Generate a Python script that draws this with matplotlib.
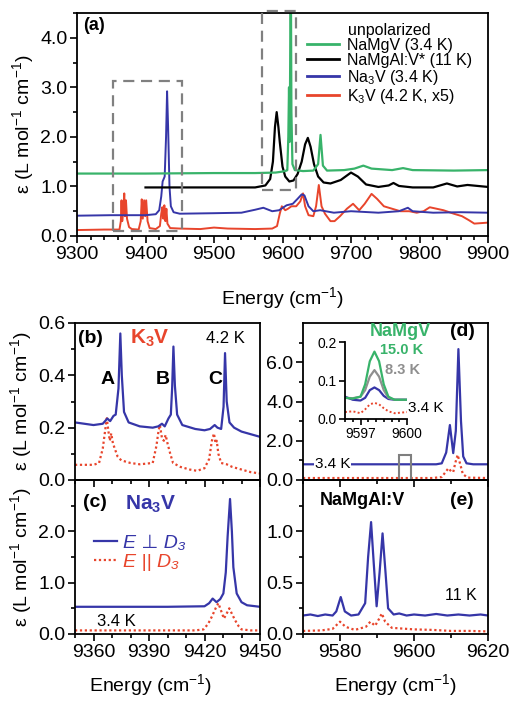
import matplotlib
matplotlib.use('Agg')
import matplotlib.pyplot as plt
from matplotlib.ticker import MultipleLocator, FormatStrFormatter, FixedLocator
from matplotlib.patches import Rectangle

plt.rcParams['font.family'] = ['Liberation Sans', 'DejaVu Sans']
plt.rcParams['mathtext.default'] = 'regular'

# ---------------- data ----------------
# panel (a): unpolarized spectra
green_a_x = [9300, 9400, 9500, 9560, 9590, 9600, 9606, 9607, 9608.5, 9609.5, 9610.5, 9611.2, 9612, 9613, 9614.5,
             9618, 9630, 9645, 9652, 9655.5, 9659, 9665, 9690, 9705, 9718, 9730, 9760, 9776, 9790, 9850, 9900]
green_a_y = [1.26, 1.26, 1.27, 1.27, 1.28, 1.30, 1.32, 1.33, 2.0, 3.0, 1.9, 3.5, 6.0, 2.5, 1.45,
             1.33, 1.31, 1.32, 1.45, 2.04, 1.42, 1.32, 1.33, 1.36, 1.42, 1.36, 1.33, 1.37, 1.33, 1.32, 1.33]

black_a_x = [9400, 9500, 9560, 9575, 9582, 9586, 9589, 9591.5, 9594, 9596, 9600, 9604, 9610, 9616, 9622, 9628,
             9633, 9637, 9641, 9646, 9652, 9660, 9670, 9685, 9700, 9710, 9722, 9740, 9755, 9762, 9770, 9790,
             9820, 9840, 9855, 9870, 9900]
black_a_y = [0.98, 0.98, 0.98, 1.02, 1.15, 1.5, 2.2, 2.5, 2.2, 1.9, 1.4, 1.2, 1.1, 1.12, 1.25, 1.5,
             1.85, 1.98, 1.8, 1.45, 1.2, 1.08, 1.06, 1.13, 1.28, 1.2, 1.04, 0.99, 1.02, 1.07, 1.01, 0.98,
             0.98, 1.06, 1.0, 1.03, 0.99]

blue_a_x = [9300, 9350, 9400, 9415, 9420, 9423, 9425, 9428, 9430, 9431.5, 9433, 9435, 9437, 9441, 9450, 9500,
            9540, 9560, 9572, 9585, 9595, 9606, 9615, 9622, 9628, 9632, 9638, 9645, 9655, 9675, 9700, 9740,
            9770, 9783, 9790, 9820, 9860, 9900]
blue_a_y = [0.41, 0.42, 0.42, 0.44, 0.52, 0.8, 1.1, 1.2, 2.0, 2.92, 2.2, 1.0, 0.6, 0.48, 0.45, 0.46,
            0.47, 0.53, 0.57, 0.5, 0.52, 0.62, 0.65, 0.75, 0.84, 0.82, 0.6, 0.5, 0.52, 0.47, 0.5, 0.47,
            0.5, 0.57, 0.5, 0.47, 0.48, 0.47]

red_a_x = [9300, 9340, 9362, 9364, 9365, 9366, 9367.5, 9369, 9370, 9371.5, 9373, 9376, 9380, 9390, 9393,
           9394.5, 9396, 9398, 9399.5, 9401, 9403, 9406, 9415, 9421, 9423, 9424.5, 9426, 9427.5, 9429,
           9430.5, 9432, 9436, 9450, 9480, 9500, 9520, 9560, 9585, 9592, 9596, 9599, 9604, 9608, 9613,
           9620, 9626, 9630, 9633, 9638, 9645, 9649, 9653, 9657, 9662, 9670, 9676, 9684, 9694, 9703, 9712,
           9720, 9730, 9738, 9748, 9760, 9772, 9785, 9796, 9806, 9815, 9825, 9835, 9850, 9862, 9872, 9880,
           9890, 9900]
red_a_y = [0.12, 0.13, 0.13, 0.3, 0.72, 0.3, 0.5, 0.86, 0.4, 0.72, 0.35, 0.18, 0.14, 0.13, 0.3,
           0.74, 0.35, 0.72, 0.4, 0.72, 0.3, 0.16, 0.14, 0.2, 0.45, 0.58, 0.35, 0.62, 0.3,
           0.55, 0.25, 0.16, 0.15, 0.14, 0.17, 0.15, 0.14, 0.15, 0.2, 0.45, 0.6, 0.52, 0.55, 0.6,
           0.6, 0.7, 0.86, 0.6, 0.42, 0.4, 0.6, 1.03, 0.6, 0.45, 0.3, 0.3, 0.4, 0.55, 0.65, 0.52,
           0.65, 0.85, 0.75, 0.6, 0.55, 0.5, 0.5, 0.47, 0.5, 0.58, 0.55, 0.52, 0.45, 0.4, 0.32, 0.25,
           0.26, 0.27]

# panel (b): K3V polarized
perp_b_x = [9350, 9355, 9360, 9365, 9367.5, 9369, 9370.8, 9372, 9373.5, 9374.5, 9375.3, 9376.5, 9379, 9385,
            9392, 9395, 9397, 9398.5, 9400.5, 9401.8, 9402.5, 9403.2, 9404, 9405.2, 9408, 9415, 9420, 9423,
            9425.5, 9427, 9429, 9430.3, 9431.1, 9432, 9433.5, 9436, 9440, 9445, 9450]
perp_b_y = [0.22, 0.215, 0.21, 0.215, 0.235, 0.225, 0.245, 0.25, 0.35, 0.56, 0.4, 0.26, 0.22, 0.205,
            0.2, 0.205, 0.215, 0.205, 0.235, 0.25, 0.35, 0.51, 0.36, 0.25, 0.21, 0.195, 0.19, 0.195,
            0.21, 0.2, 0.195, 0.28, 0.485, 0.3, 0.22, 0.2, 0.185, 0.175, 0.165]
par_b_x = [9350, 9360, 9363, 9365, 9366.5, 9367.2, 9368, 9368.8, 9369.6, 9370.5, 9371.5, 9373, 9375, 9380,
           9385, 9392, 9394, 9395.2, 9395.9, 9397, 9398, 9399, 9400, 9401.5, 9403, 9407, 9412, 9416, 9420,
           9422.5, 9424, 9425.1, 9426, 9426.6, 9427.5, 9429, 9432, 9435, 9440, 9445, 9450]
par_b_y = [0.058, 0.058, 0.065, 0.12, 0.2, 0.236, 0.19, 0.15, 0.178, 0.14, 0.12, 0.09, 0.075, 0.065,
           0.06, 0.065, 0.13, 0.19, 0.21, 0.16, 0.15, 0.172, 0.14, 0.1, 0.065, 0.05, 0.04, 0.035, 0.045,
           0.08, 0.15, 0.178, 0.14, 0.15, 0.1, 0.065, 0.06, 0.05, 0.04, 0.03, 0.025]

# panel (c): Na3V polarized
perp_c_x = [9350, 9400, 9420, 9422.5, 9424.4, 9426.5, 9428.5, 9430.2, 9431.5, 9432.5, 9433.8, 9434.8, 9435.6,
            9437.4, 9440, 9443, 9450]
perp_c_y = [0.53, 0.53, 0.54, 0.6, 0.69, 0.62, 0.68, 0.79, 1.2, 1.9, 2.63, 2.0, 1.3, 0.79, 0.62, 0.56, 0.53]
par_c_x = [9350, 9415, 9419.5, 9422, 9424, 9426, 9427.5, 9429, 9430.5, 9432, 9433.4, 9435, 9436.5, 9438.5,
           9440, 9445, 9450]
par_c_y = [0.07, 0.07, 0.09, 0.2, 0.34, 0.5, 0.6, 0.45, 0.3, 0.4, 0.5, 0.38, 0.27, 0.15, 0.09, 0.07, 0.07]

# panel (d): NaMgV polarized
perp_d_x = [9570, 9600, 9606, 9607.5, 9608.7, 9609.7, 9610.6, 9611.3, 9612, 9612.7, 9613.3, 9614.2, 9616, 9620]
perp_d_y = [0.8, 0.8, 0.8, 0.85, 1.4, 2.8, 1.37, 2.5, 6.67, 3.0, 1.2, 0.85, 0.8, 0.8]
par_d_x = [9570, 9605, 9607.5, 9608.5, 9609.3, 9610, 9610.6, 9611.2, 9611.8, 9612.5, 9613.2, 9614.5, 9620]
par_d_y = [0.1, 0.1, 0.15, 0.4, 0.6, 0.45, 0.4, 0.9, 1.28, 0.8, 0.3, 0.12, 0.1]

# inset of (d): temperature dependence
in_x = [9596, 9596.5, 9597, 9597.3, 9597.6, 9597.9, 9598.2, 9598.5, 9598.8, 9599.2, 9600]
in_15K = [0.055, 0.053, 0.058, 0.09, 0.15, 0.175, 0.15, 0.09, 0.058, 0.05, 0.05]
in_8K = [0.055, 0.054, 0.058, 0.075, 0.11, 0.127, 0.11, 0.075, 0.055, 0.05, 0.05]
in_3K = [0.058, 0.05, 0.048, 0.055, 0.075, 0.082, 0.075, 0.06, 0.052, 0.05, 0.05]
in_par = [0.018, 0.02, 0.015, 0.025, 0.038, 0.042, 0.038, 0.028, 0.02, 0.015, 0.018]

# panel (e): NaMgAl:V polarized
perp_e_x = [9570, 9572, 9574, 9576, 9578, 9579, 9580.2, 9581.3, 9583, 9585, 9586.8, 9587.6, 9588.4, 9589.1,
            9589.9, 9590.7, 9591.5, 9592.3, 9593, 9594.5, 9596, 9598, 9600, 9603, 9606, 9609, 9612, 9615,
            9618, 9620]
perp_e_y = [0.18, 0.19, 0.175, 0.19, 0.18, 0.22, 0.36, 0.22, 0.18, 0.19, 0.3, 0.75, 1.09, 0.7,
            0.27, 0.6, 0.98, 0.6, 0.25, 0.19, 0.2, 0.18, 0.19, 0.18, 0.195, 0.18, 0.19, 0.18,
            0.19, 0.18]
par_e_x = [9570, 9575, 9578, 9580, 9581.5, 9584, 9587, 9588.2, 9589.5, 9590.6, 9591.3, 9592.2, 9594, 9600,
           9605, 9610, 9615, 9620]
par_e_y = [0.03, 0.035, 0.05, 0.12, 0.07, 0.04, 0.07, 0.12, 0.08, 0.15, 0.2, 0.12, 0.06, 0.045,
           0.04, 0.03, 0.03, 0.025]

legend_a_labels = ['NaMgV (3.4 K)', 'NaMgAl:V* (11 K)', 'Na$_3$V (3.4 K)', 'K$_3$V (4.2 K, x5)']
legend_c_labels = ['E \u22a5 D\u2083', 'E || D\u2083']

# ---------------- style ----------------
BLUE = '#3636a8'
RED = '#e8452c'
GREEN = '#38b36a'
GRAY = '#8f8f8f'
DOT = (0, (1, 1.2))
YLAB = '\u03b5 (L mol$^{-1}$ cm$^{-1}$)'
XLAB = 'Energy (cm$^{-1}$)'

fig = plt.figure(figsize=(5.14, 7.04), dpi=100)
W, H = 514.0, 704.0


def add_ax(l, t, r, b):
    return fig.add_axes([l / W, 1 - b / H, (r - l) / W, (b - t) / H])


def style(ax, size=14):
    ax.set_facecolor('none')
    for s in ax.spines.values():
        s.set_linewidth(1.3)
    ax.tick_params(which='both', direction='out', width=1.2, labelsize=size, pad=2)
    ax.tick_params(which='major', length=5)
    ax.tick_params(which='minor', length=3)


ax_a = add_ax(77, 13, 488, 236)
ax_b = add_ax(75, 323, 260, 480)
ax_c = add_ax(75, 480, 260, 634)
ax_d = add_ax(303, 323, 488, 480)
ax_e = add_ax(303, 480, 488, 634)
ax_in = add_ax(345, 342, 407, 419)
for ax in (ax_a, ax_b, ax_c, ax_d, ax_e):
    style(ax)
style(ax_in, 10)

# ---- (a)
lr, = ax_a.plot(red_a_x, red_a_y, color=RED, lw=1.4)
lb, = ax_a.plot(blue_a_x, blue_a_y, color=BLUE, lw=1.4)
lk, = ax_a.plot(black_a_x, black_a_y, color='black', lw=1.6)
lg, = ax_a.plot(green_a_x, green_a_y, color=GREEN, lw=1.6)
ax_a.set_xlim(9300, 9900)
ax_a.set_ylim(0, 4.5)
ax_a.xaxis.set_major_locator(MultipleLocator(100))
ax_a.xaxis.set_minor_locator(MultipleLocator(20))
ax_a.yaxis.set_major_locator(MultipleLocator(1))
ax_a.yaxis.set_minor_locator(MultipleLocator(0.5))
ax_a.yaxis.set_major_formatter(FormatStrFormatter('%.1f'))
ax_a.add_patch(Rectangle((9352, 0.1), 102, 3.02, fill=False, ec='#808080', lw=1.6, ls=(0, (5, 3)), zorder=5))
ax_a.add_patch(Rectangle((9570, 0.92), 50, 3.62, fill=False, ec='#808080', lw=1.6, ls=(0, (5, 3)),
                         zorder=5, clip_on=False))
leg = ax_a.legend([lg, lk, lb, lr], legend_a_labels, title='unpolarized', loc='upper left',
                  bbox_to_anchor=(0.56, 0.955), frameon=False, fontsize=11.5, title_fontsize=11.5,
                  handlelength=2.0, handletextpad=0.5, labelspacing=0.0, borderpad=0, borderaxespad=0)
for h in leg.legend_handles:
    h.set_linewidth(2)
ax_a.text(0.015, 0.945, '(a)', transform=ax_a.transAxes, fontsize=13, fontweight='bold', va='center')
ax_a.set_ylabel(YLAB, fontsize=14)
ax_a.yaxis.set_label_coords(-0.10, 0.5)
ax_a.set_xlabel(XLAB, fontsize=14)
ax_a.xaxis.set_label_coords(0.5, -0.22)

# ---- (b)
ax_b.plot(par_b_x, par_b_y, color=RED, lw=1.6, ls=DOT)
ax_b.plot(perp_b_x, perp_b_y, color=BLUE, lw=1.6)
ax_b.set_xlim(9350, 9450)
ax_b.set_ylim(0, 0.6)
ax_b.yaxis.set_major_locator(MultipleLocator(0.2))
ax_b.yaxis.set_minor_locator(MultipleLocator(0.1))
ax_b.yaxis.set_major_formatter(FormatStrFormatter('%.1f'))
ax_b.text(0.016, 0.9, '(b)', transform=ax_b.transAxes, fontsize=14, fontweight='bold', va='center')
ax_b.text(0.30, 0.9, 'K$_3$V', transform=ax_b.transAxes, fontsize=15, fontweight='bold', va='center',
          color=RED)
ax_b.text(0.71, 0.9, '4.2 K', transform=ax_b.transAxes, fontsize=12, va='center')
for lab, xx in (('A', 0.178), ('B', 0.476), ('C', 0.757)):
    ax_b.text(xx, 0.643, lab, transform=ax_b.transAxes, fontsize=14, fontweight='bold', va='center',
              ha='center')
ax_b.set_ylabel(YLAB, fontsize=14)
ax_b.yaxis.set_label_coords(-0.22, 0.5)

# ---- (c)
pc_par, = ax_c.plot(par_c_x, par_c_y, color=RED, lw=1.6, ls=DOT)
pc_perp, = ax_c.plot(perp_c_x, perp_c_y, color=BLUE, lw=1.6)
ax_c.set_xlim(9350, 9450)
ax_c.set_ylim(0, 3.0)
ax_c.yaxis.set_major_locator(FixedLocator([0, 1, 2]))
ax_c.yaxis.set_minor_locator(FixedLocator([0.5, 1.5, 2.5]))
ax_c.yaxis.set_major_formatter(FormatStrFormatter('%.1f'))
ax_b.xaxis.set_minor_locator(MultipleLocator(10))
ax_c.xaxis.set_minor_locator(MultipleLocator(10))
ax_b.xaxis.set_major_locator(FixedLocator([9360, 9390, 9420, 9450]))
ax_c.xaxis.set_major_locator(FixedLocator([9360, 9390, 9420, 9450]))
ax_b.tick_params(axis='x', labelbottom=False)
ax_c.text(0.043, 0.857, '(c)', transform=ax_c.transAxes, fontsize=14, fontweight='bold', va='center')
ax_c.text(0.27, 0.845, 'Na$_3$V', transform=ax_c.transAxes, fontsize=15, fontweight='bold', va='center',
          color=BLUE)
ax_c.text(0.12, 0.08, '3.4 K', transform=ax_c.transAxes, fontsize=12, va='center')
legc = ax_c.legend([pc_perp, pc_par], legend_c_labels, loc='upper left', bbox_to_anchor=(0.10, 0.65),
                   frameon=False, prop={'style': 'italic', 'size': 14}, handlelength=1.2,
                   handletextpad=0.3, labelspacing=0.1, borderpad=0, borderaxespad=0)
for t, c in zip(legc.get_texts(), (BLUE, RED)):
    t.set_color(c)
ax_c.set_ylabel(YLAB, fontsize=14)
ax_c.yaxis.set_label_coords(-0.22, 0.5)
ax_c.set_xlabel(XLAB, fontsize=14)
ax_c.xaxis.set_label_coords(0.41, -0.25)

# ---- (d)
ax_d.plot(par_d_x, par_d_y, color=RED, lw=1.6, ls=DOT)
ax_d.plot(perp_d_x, perp_d_y, color=BLUE, lw=1.6)
ax_d.set_xlim(9570, 9620)
ax_d.set_ylim(0, 8.0)
ax_d.yaxis.set_major_locator(FixedLocator([0, 2, 4, 6]))
ax_d.yaxis.set_minor_locator(FixedLocator([1, 3, 5, 7]))
ax_d.yaxis.set_major_formatter(FormatStrFormatter('%.1f'))
ax_d.xaxis.set_major_locator(MultipleLocator(20))
ax_d.xaxis.set_minor_locator(MultipleLocator(10))
ax_d.tick_params(axis='x', labelbottom=False)
ax_d.add_patch(Rectangle((9596, 0.0), 3.2, 1.25, fill=False, ec='#7f7f7f', lw=1.5, zorder=4))
ax_d.text(9578, 0.8, '3.4 K', fontsize=11, va='center', ha='center',
          bbox=dict(fc='white', ec='none', pad=0.5), zorder=5)
ax_d.text(0.36, 0.945, 'NaMgV', transform=ax_d.transAxes, fontsize=13, fontweight='bold', va='center',
          color=GREEN)
ax_d.text(0.795, 0.945, '(d)', transform=ax_d.transAxes, fontsize=14, fontweight='bold', va='center')
ax_d.text(0.416, 0.828, '15.0 K', transform=ax_d.transAxes, fontsize=10.5, fontweight='bold', va='center',
          color=GREEN)
ax_d.text(0.443, 0.70, '8.3 K', transform=ax_d.transAxes, fontsize=10.5, fontweight='bold', va='center',
          color=GRAY)
ax_d.text(0.568, 0.46, '3.4 K', transform=ax_d.transAxes, fontsize=11, va='center')

# ---- inset
ax_in.plot(in_x, in_par, color=RED, lw=1.4, ls=DOT)
ax_in.plot(in_x, in_3K, color=BLUE, lw=1.6)
ax_in.plot(in_x, in_8K, color=GRAY, lw=1.6)
ax_in.plot(in_x, in_15K, color=GREEN, lw=1.6)
ax_in.set_xlim(9596, 9600)
ax_in.set_ylim(0, 0.2)
ax_in.spines['top'].set_visible(False)
ax_in.spines['right'].set_visible(False)
ax_in.xaxis.set_major_locator(FixedLocator([9597, 9600]))
ax_in.xaxis.set_minor_locator(MultipleLocator(0.5))
ax_in.yaxis.set_major_locator(MultipleLocator(0.1))
ax_in.yaxis.set_major_formatter(FormatStrFormatter('%.1f'))
ax_in.tick_params(which='major', length=4)
ax_in.tick_params(which='minor', length=2.5)
ax_in.annotate('', xy=(9596.6, 0.205), xytext=(9596.6, 0.045),
               arrowprops=dict(arrowstyle='-|>', color='black', lw=1.6, mutation_scale=12))

# ---- (e)
ax_e.plot(par_e_x, par_e_y, color=RED, lw=1.6, ls=DOT)
ax_e.plot(perp_e_x, perp_e_y, color=BLUE, lw=1.6)
ax_e.set_xlim(9570, 9620)
ax_e.set_ylim(0, 1.5)
ax_e.yaxis.set_major_locator(FixedLocator([0, 0.5, 1.0]))
ax_e.yaxis.set_minor_locator(FixedLocator([0.25, 0.75, 1.25]))
ax_e.yaxis.set_major_formatter(FormatStrFormatter('%.1f'))
ax_e.xaxis.set_major_locator(MultipleLocator(20))
ax_e.xaxis.set_minor_locator(MultipleLocator(10))
ax_e.text(0.092, 0.87, 'NaMgAl:V', transform=ax_e.transAxes, fontsize=13, fontweight='bold', va='center')
ax_e.text(0.795, 0.87, '(e)', transform=ax_e.transAxes, fontsize=14, fontweight='bold', va='center')
ax_e.text(0.768, 0.253, '11 K', transform=ax_e.transAxes, fontsize=11.5, va='center')
ax_e.set_xlabel(XLAB, fontsize=14)
ax_e.xaxis.set_label_coords(0.5, -0.25)

fig.savefig('out.png', dpi=100)
